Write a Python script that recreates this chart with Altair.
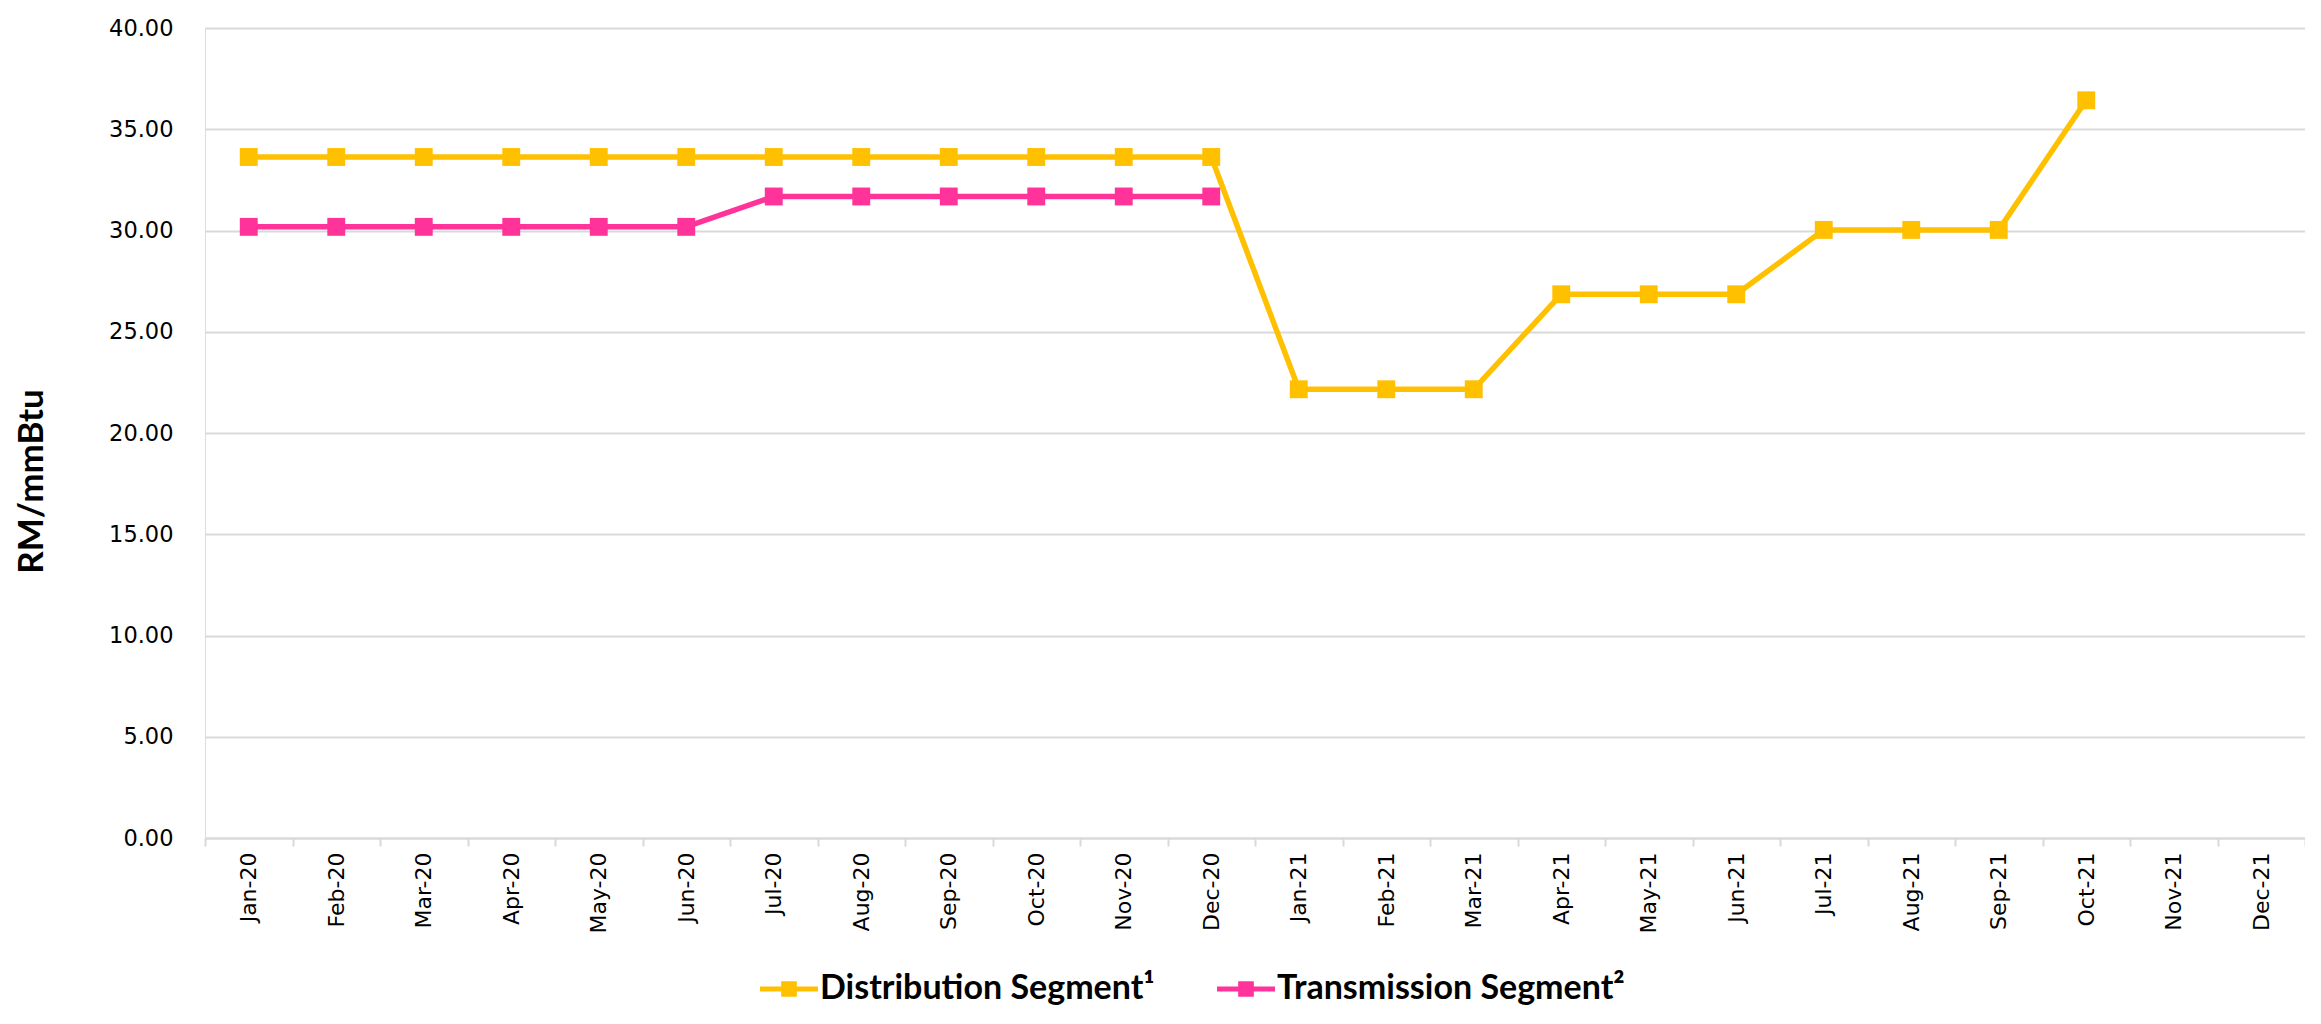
import altair as alt
import pandas as pd

months = ["Jan-20", "Feb-20", "Mar-20", "Apr-20", "May-20", "Jun-20",
          "Jul-20", "Aug-20", "Sep-20", "Oct-20", "Nov-20", "Dec-20",
          "Jan-21", "Feb-21", "Mar-21", "Apr-21", "May-21", "Jun-21",
          "Jul-21", "Aug-21", "Sep-21", "Oct-21", "Nov-21", "Dec-21"]

distribution = [33.63, 33.63, 33.63, 33.63, 33.63, 33.63,
                33.63, 33.63, 33.63, 33.63, 33.63, 33.63,
                22.16, 22.16, 22.16, 26.85, 26.85, 26.85,
                30.03, 30.03, 30.03, 36.43, None, None]

transmission = [30.18, 30.18, 30.18, 30.18, 30.18, 30.18,
                31.68, 31.68, 31.68, 31.68, 31.68, 31.68,
                None, None, None, None, None, None,
                None, None, None, None, None, None]

series_names = ["Distribution Segment¹", "Transmission Segment²"]
series_colors = ["#FFC000", "#FF3399"]
y_ticks = [0, 5, 10, 15, 20, 25, 30, 35, 40]

rows = []
for name, vals in zip(series_names, [distribution, transmission]):
    for m, v in zip(months, vals):
        if v is not None:
            rows.append({"month": m, "series": name, "value": v})
df = pd.DataFrame(rows)

x_enc = alt.X(
    "month:N",
    sort=months,
    bandPosition=0.5,
    scale=alt.Scale(type="band", domain=months, paddingInner=0, paddingOuter=0),
    axis=alt.Axis(
        title=None,
        labelAngle=270,
        labelFont="DejaVu Sans",
        labelFontSize=22,
        labelColor="#000000",
        labelPadding=6,
        tickBand="extent",
        ticks=True,
        tickSize=8,
        tickColor="#D9D9D9",
        tickWidth=2,
        domainColor="#D9D9D9",
        domainWidth=2,
        grid=False,
    ),
)

y_enc = alt.Y(
    "value:Q",
    scale=alt.Scale(domain=[0, 40], nice=False, zero=True),
    axis=alt.Axis(
        title="RM/mmBtu",
        values=y_ticks,
        format=".2f",
        labelFont="DejaVu Sans",
        labelFontSize=22.5,
        labelColor="#000000",
        labelPadding=32,
        ticks=False,
        domain=False,
        grid=True,
        gridColor="#D9D9D9",
        gridWidth=2,
        titleFont="Lato",
        titleFontSize=35,
        titleFontWeight="bold",
        titleColor="#000000",
        titleAngle=270,
        titleAlign="center",
        titleBaseline="middle",
        titleX=-174,
        titleY=453,
    ),
)

legend_symbol = "M-1,-0.085H1V0.085H-1Z M-0.27,-0.27H0.27V0.27H-0.27Z"

shared_legend = alt.Legend(
    title=None,
    orient="none",
    legendX=555,
    legendY=932,
    direction="horizontal",
    symbolType=legend_symbol,
    symbolSize=3364,
    symbolStrokeWidth=0,
    symbolOpacity=1,
    labelFont="Lato",
    labelFontSize=34,
    labelFontWeight="bold",
    labelColor="#000000",
    labelLimit=1000,
    labelOffset=2,
    columnPadding=62,
)

color_enc = alt.Color(
    "series:N",
    scale=alt.Scale(domain=series_names, range=series_colors),
    legend=shared_legend,
)

lines = alt.Chart(df).mark_line(strokeWidth=5.5).encode(
    x=x_enc,
    y=y_enc,
    color=color_enc,
)

points = alt.Chart(df).mark_point(shape="square", filled=True, size=320, opacity=1).encode(
    x=x_enc,
    y=y_enc,
    color=color_enc,
)

chart = (
    alt.layer(lines, points)
    .properties(
        width=2100,
        height=810,
        autosize=alt.AutoSizeParams(type="none"),
        padding={"left": 197, "top": 20, "right": 0, "bottom": 178},
    )
    .configure_view(stroke=None)
    .configure(background="#FFFFFF")
)

chart.save("out.html", embed_options={"renderer": "svg", "actions": False})
